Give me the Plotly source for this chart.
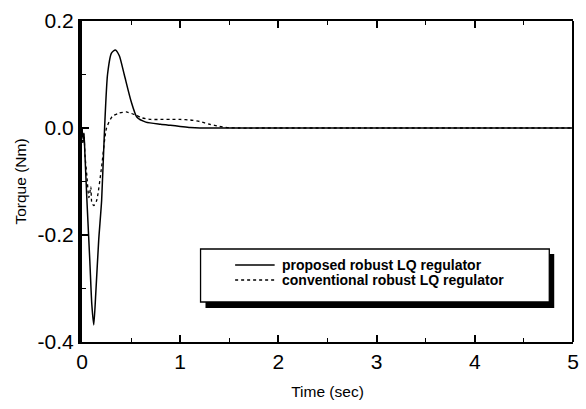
import plotly.graph_objects as go

# Torque response of the two regulators
t_proposed = [0.0, 0.01, 0.02, 0.03, 0.05, 0.08, 0.10, 0.12, 0.14, 0.17, 0.20, 0.23,
              0.26, 0.30, 0.34, 0.38, 0.43, 0.50, 0.56, 0.65, 0.8, 0.9, 1.0, 1.1, 1.2, 1.5, 2.0, 3.0, 4.0, 5.0]
tq_proposed = [0.0, -0.02, -0.01, -0.05, -0.135, -0.25, -0.33, -0.368, -0.31, -0.21, -0.135, 0.0,
               0.10, 0.14, 0.146, 0.135, 0.10, 0.05, 0.02, 0.011, 0.007, 0.005, 0.003, 0.001, 0.0, 0.0, 0.0, 0.0, 0.0, 0.0]

t_conventional = [0.0, 0.01, 0.02, 0.03, 0.05, 0.07, 0.09, 0.10, 0.12, 0.15, 0.20, 0.25, 0.31,
                  0.38, 0.45, 0.55, 0.61, 0.7, 0.8, 0.9, 1.0, 1.1, 1.2, 1.3, 1.4, 1.5, 1.6, 2.0, 3.0, 4.0, 5.0]
tq_conventional = [0.0, -0.03, -0.01, -0.05, -0.09, -0.13, -0.11, -0.14, -0.145, -0.135, -0.072, 0.0, 0.022,
                   0.028, 0.03, 0.024, 0.019, 0.016, 0.016, 0.016, 0.016, 0.015, 0.012, 0.007, 0.003, 0.0005, 0.0, 0.0, 0.0, 0.0, 0.0]

name_proposed = "proposed robust LQ regulator"
name_conventional = "conventional robust LQ regulator"

x_ticks = [0, 1, 2, 3, 4, 5]
x_minor = [0.5, 1.5, 2.5, 3.5, 4.5]
y_ticks = [-0.4, -0.2, 0.0, 0.2]
y_minor = [-0.3, -0.1, 0.1]
y_ticklabels = ["-0.4", "-0.2", "0.0", "0.2"]

FONT = "Liberation Sans, Arial, sans-serif"

fig = go.Figure()
fig.add_trace(go.Scatter(x=t_proposed, y=tq_proposed, mode="lines", name=name_proposed,
                         line=dict(color="black", width=1.5, shape="spline", smoothing=0.6)))
fig.add_trace(go.Scatter(x=t_conventional, y=tq_conventional, mode="lines", name=name_conventional,
                         line=dict(color="black", width=1.3, dash="3px,3px", shape="spline", smoothing=0.6)))

fig.update_layout(
    width=586, height=409,
    margin=dict(l=82, r=7, t=21, b=67),
    paper_bgcolor="white", plot_bgcolor="white",
    showlegend=False,
    font=dict(family=FONT, color="black"),
    xaxis=dict(range=[0, 5], tickmode="array", tickvals=x_ticks, ticks="inside", ticklen=7, tickwidth=1.5,
               tickcolor="black", showline=True, linewidth=2, linecolor="black", mirror="ticks",
               showgrid=False, zeroline=False, tickfont=dict(size=21),
               minor=dict(tickmode="array", tickvals=x_minor, ticks="inside", ticklen=4,
                          tickwidth=1.2, tickcolor="black", showgrid=False),
               title=dict(text="Time (sec)", font=dict(size=15.5), standoff=14)),
    yaxis=dict(range=[-0.4, 0.2], tickmode="array", tickvals=y_ticks, ticktext=y_ticklabels, ticks="inside",
               ticklen=7, tickwidth=1.5, tickcolor="black", showline=True, linewidth=4,
               linecolor="black", showgrid=False, zeroline=False, tickfont=dict(size=21),
               minor=dict(tickmode="array", tickvals=y_minor, ticks="inside", ticklen=4,
                          tickwidth=1.2, tickcolor="black", showgrid=False),
               title=dict(text="Torque (Nm)", font=dict(size=15.5), standoff=8)),
)

# right frame line
fig.add_shape(type="line", xref="paper", yref="paper", x0=1, x1=1, y0=0, y1=1,
              line=dict(color="black", width=2))

# legend box with drop shadow
pw, ph = 586 - 82 - 7, 409 - 21 - 67


def px_x(p):
    return (p - 82) / pw


def px_y(p):
    return 1 - (p - 21) / ph


fig.add_shape(type="rect", xref="paper", yref="paper",
              x0=px_x(207), x1=px_x(560), y0=px_y(308), y1=px_y(254),
              fillcolor="black", line=dict(width=0))
fig.add_shape(type="rect", xref="paper", yref="paper",
              x0=px_x(202), x1=px_x(555), y0=px_y(302), y1=px_y(249),
              fillcolor="white", line=dict(color="black", width=1.3))

rows = [(name_proposed, "solid", 265), (name_conventional, "3px,3px", 280)]
for label, dash, yy in rows:
    fig.add_shape(type="line", xref="paper", yref="paper",
                  x0=px_x(237), x1=px_x(277), y0=px_y(yy), y1=px_y(yy),
                  line=dict(color="black", width=1.4, dash=dash))
    fig.add_annotation(text="<b>" + label + "</b>", xref="paper", yref="paper", x=px_x(282), y=px_y(yy),
                       xanchor="left", yanchor="middle", showarrow=False,
                       font=dict(size=14, family=FONT, color="black"))

fig.write_html("out.html")
